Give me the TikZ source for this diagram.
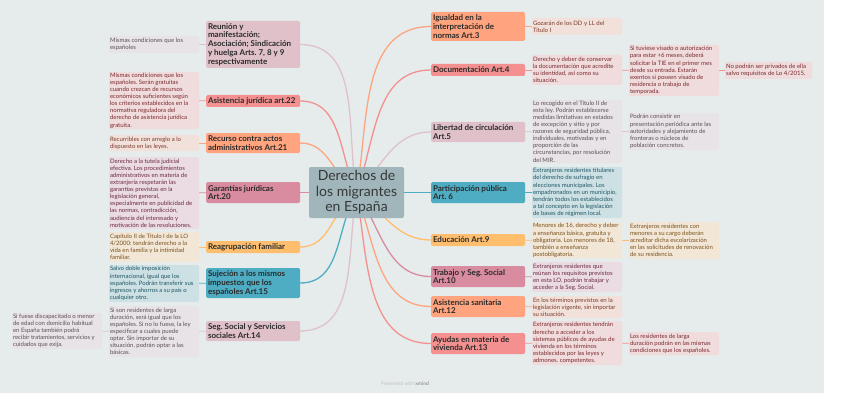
\documentclass[tikz,border=0pt]{standalone}
\usepackage{fontspec}
\setmainfont{Lato}
\usepackage{xcolor}
\usepackage{tikz}
\usetikzlibrary{backgrounds,positioning}
\frenchspacing

\definecolor{cBack}{HTML}{E6ECEC}
\definecolor{cRoot}{HTML}{A1B6BB}
\definecolor{cMauve}{HTML}{E0C1CA}
\definecolor{cRed}{HTML}{F49090}
\definecolor{cOrange}{HTML}{FFA47E}
\definecolor{cPink}{HTML}{D98BA0}
\definecolor{cYellow}{HTML}{FFBE6E}
\definecolor{cTeal}{HTML}{4EADC3}
\definecolor{sMauve}{HTML}{E8E3E7}
\definecolor{sRed}{HTML}{F0DCDC}
\definecolor{sOrange}{HTML}{F2E1DB}
\definecolor{sPink}{HTML}{EBDCE3}
\definecolor{sYellow}{HTML}{F2E6D6}
\definecolor{sTeal}{HTML}{CDE1E5}
\definecolor{tMauve}{HTML}{5A5055}
\definecolor{tRed}{HTML}{7A2A30}
\definecolor{tOrange}{HTML}{7B3A2A}
\definecolor{tPink}{HTML}{6A2A45}
\definecolor{tYellow}{HTML}{7A5320}
\definecolor{tTeal}{HTML}{1F5563}
\definecolor{tMain}{HTML}{2A2A2A}

\begin{document}
\begin{tikzpicture}[x=1pt,y=-1pt,
    root node/.style={rectangle,rounded corners=2pt,fill=cRoot,text=tMain!90!cRoot,font=\fontsize{14}{15.5}\selectfont,align=center,minimum width=95pt,minimum height=51pt,inner sep=0pt},
    main node/.style={rectangle,rounded corners=1.5pt,fill=#1,text=tMain,font=\bfseries\fontsize{8}{8.8}\selectfont,text width=90pt,align=flush left,inner xsep=2pt,inner ysep=1pt},
    sub node/.style 2 args={rectangle,rounded corners=1.5pt,fill=#1,text=#2,font=\fontsize{6}{7.1}\selectfont,text width=88pt,align=flush left,inner xsep=1pt,inner ysep=1pt},
    branch/.style={line width=1.3pt},
    twig/.style={line width=0.7pt}]
    \useasboundingbox (0,0) rectangle (848,417);

    \node[root node] (root) at (356.5,192.5) {Derechos de\\los migrantes\\en España};

    % left side
    \node[main node=cMauve,minimum height=47pt] (reunion) at (253,44.5) {Reunión y\\manifestación;\\Asociación; Sindicación\\y huelga Arts. 7, 8 y 9\\respectivamente};
    \node[main node=cRed,minimum height=12pt] (asistjur) at (253,101) {Asistencia jurídica art.22};
    \node[main node=cOrange,minimum height=20pt] (recurso) at (253,143) {Recurso contra actos\\administrativos Art.21};
    \node[main node=cPink,minimum height=21pt] (garantias) at (253,192.5) {Garantías jurídicas\\Art.20};
    \node[main node=cYellow,minimum height=12pt] (reagrup) at (253,247) {Reagrupación familiar};
    \node[main node=cTeal,minimum height=30pt] (sujecion) at (253,283) {Sujeción a los mismos\\impuestos que los\\españoles Art.15};
    \node[main node=cMauve,minimum height=20pt] (segsoc) at (253,331) {Seg. Social y Servicios\\sociales Art.14};

    \node[sub node={sMauve}{tMauve},minimum height=17pt] (sreunion) at (154,44.5) {Mismas condiciones que los\\españoles};
    \node[sub node={sRed}{tRed},minimum height=57pt] (sasistjur) at (154,100.5) {Mismas condiciones que los\\españoles. Serán gratuitas\\cuando crezcan de recursos\\económicos suficientes según\\los criterios establecidos en la\\normativa reguladora del\\derecho de asistencia jurídica\\gratuita.};
    \node[sub node={sOrange}{tOrange},minimum height=16pt] (srecurso) at (154,143) {Recurribles con arreglo a lo\\dispuesto en las leyes.};
    \node[sub node={sPink}{tPink},minimum height=72pt] (sgarantias) at (154,193) {Derecho a la tutela judicial\\efectiva. Los procedimientos\\administrativos en materia de\\extranjería respetarán las\\garantías previstas en la\\legislación general,\\especialmente en publicidad de\\las normas, contradicción,\\audiencia del interesado y\\motivación de las resoluciones.};
    \node[sub node={sYellow}{tYellow},minimum height=30pt] (sreagrup) at (154,247) {Capítulo II de Título I de la LO\\4/2000: tendrán derecho a la\\vida en familia y la intimidad\\familiar.};
    \node[sub node={sTeal}{tTeal},minimum height=37pt] (ssujecion) at (154,283.5) {Salvo doble imposición\\internacional, igual que los\\españoles. Podrán transferir sus\\ingresos y ahorros a su país o\\cualquier otro.};
    \node[sub node={sMauve}{tMauve},minimum height=51pt] (ssegsoc) at (154,331.5) {Si son residentes de larga\\duración, será igual que los\\españoles. Si no lo fuese, la ley\\especificar a cuales puede\\optar. Sin importar de su\\situación, podrán optar a las\\básicas.};
    \node[sub node={sMauve}{tMauve},minimum height=36pt] (sssegsoc) at (57,331) {Si fuese discapacitado o menor\\de edad con domicilio habitual\\en España también podrá\\recibir tratamientos, servicios y\\cuidados que exija.};

    % right side
    \node[main node=cOrange,minimum height=29pt] (igualdad) at (478,26.5) {Igualdad en la\\interpretación de\\normas Art.3};
    \node[main node=cRed,minimum height=12pt] (docum) at (478,70) {Documentación Art.4};
    \node[main node=cMauve,minimum height=20pt] (libertad) at (478,132) {Libertad de circulación\\Art.5};
    \node[main node=cTeal,minimum height=21pt] (particip) at (478,192.5) {Participación pública\\Art. 6};
    \node[main node=cYellow,minimum height=12pt] (educ) at (478,240) {Educación Art.9};
    \node[main node=cPink,minimum height=21pt] (trabajo) at (478,276.5) {Trabajo y Seg. Social\\Art.10};
    \node[main node=cOrange,minimum height=21pt] (asistsan) at (478,306.5) {Asistencia sanitaria\\Art.12};
    \node[main node=cRed,minimum height=21pt] (ayudas) at (478,343.5) {Ayudas en materia de\\vivienda Art.13};

    \node[sub node={sOrange}{tOrange},minimum height=17pt] (sigualdad) at (577,26.5) {Gozarán de los DD y LL del\\Título I};
    \node[sub node={sRed}{tRed},minimum height=30pt] (sdocum) at (577,70) {Derecho y deber de conservar\\la documentación que acredite\\su identidad, así como su\\situación.};
    \node[sub node={sMauve}{tMauve},minimum height=63pt] (slibertad) at (577,131.5) {Lo recogido en el Título II de\\esta ley. Podrán establecerse\\medidas limitativas en estados\\de excepción y sitio y por\\razones de seguridad pública,\\individuales, motivadas y en\\proporción de las\\circunstancias, por resolución\\del MIR.};
    \node[sub node={sTeal}{tTeal},minimum height=51pt] (sparticip) at (577,192.5) {Extranjeros residentes titulares\\del derecho de sufragio en\\elecciones municipales. Los\\empadronados en un municipio,\\tendrán todos los establecidos\\a tal concepto en la legislación\\de bases de régimen local.};
    \node[sub node={sYellow}{tYellow},minimum height=35pt] (seduc) at (577,240.5) {Menores de 16, derecho y deber\\a enseñanza básica, gratuita y\\obligatoria. Los menores de 18,\\también a enseñanza\\postobligatoria.};
    \node[sub node={sPink}{tPink},minimum height=30pt] (strabajo) at (577,277) {Extranjeros residentes que\\reúnan los requisitos previstos\\en esta LO, podrán trabajar y\\acceder a la Seg. Social.};
    \node[sub node={sOrange}{tOrange},minimum height=22pt] (sasistsan) at (577,307) {En los términos previstos en la\\legislación vigente, sin importar\\su situación.};
    \node[sub node={sRed}{tRed},minimum height=44pt] (sayudas) at (577,343) {Extranjeros residentes tendrán\\derecho a acceder a los\\sistemas públicos de ayudas de\\vivienda en los términos\\establecidos por las leyes y\\admones. competentes.};

    \node[sub node={sRed}{tRed},minimum height=51pt] (ssdocum) at (674,70.5) {Si tuviese visado o autorización\\para estar +6 meses, deberá\\solicitar la TIE en el primer mes\\desde su entrada. Estarán\\exentos si poseen visado de\\residencia o trabajo de\\temporada.};
    \node[sub node={sRed}{tRed},minimum height=17pt,text width=85pt] (sssdocum) at (768.5,70.5) {No podrán ser privados de ella\\salvo requisitos de Lo 4/2015.};
    \node[sub node={sMauve}{tMauve},minimum height=37pt] (sslibertad) at (674,131.5) {Podrán consistir en\\presentación periódica ante las\\autoridades y alejamiento de\\fronteras o núcleos de\\población concretos.};
    \node[sub node={sYellow}{tYellow},minimum height=37pt] (sseduc) at (674,240.5) {Extranjeros residentes con\\menores a su cargo deberán\\acreditar dicha escolarización\\en las solicitudes de renovación\\de su residencia.};
    \node[sub node={sRed}{tRed},minimum height=23pt] (ssayudas) at (674,343.5) {Los residentes de larga\\duración podrán en las mismas\\condiciones que los españoles.};

    \node[text=black!25,font=\fontsize{5}{6}\selectfont] (footer) at (405,384) {Presented with \textcolor{black!40}{\bfseries xmind}};

    \begin{pgfonlayer}{background}
    \fill[cBack] (0,0) rectangle (824,393);
    \path[branch] (root.center) edge[out=100,in=0,draw=cMauve] (reunion.east)
        (root.center) edge[out=115,in=0,draw=cRed] (asistjur.east)
        (root.center) edge[out=145,in=0,draw=cOrange] (recurso.east)
        (root.center) edge[draw=cPink] (garantias.east)
        (root.center) edge[out=215,in=0,draw=cYellow] (reagrup.east)
        (root.center) edge[out=240,in=0,draw=cTeal] (sujecion.east)
        (root.center) edge[out=260,in=0,draw=cMauve] (segsoc.east)
        (root.center) edge[out=80,in=180,draw=cOrange] (igualdad.west)
        (root.center) edge[out=70,in=180,draw=cRed] (docum.west)
        (root.center) edge[out=45,in=180,draw=cMauve] (libertad.west)
        (root.center) edge[draw=cTeal] (particip.west)
        (root.center) edge[out=-35,in=180,draw=cYellow] (educ.west)
        (root.center) edge[out=-55,in=180,draw=cPink] (trabajo.west)
        (root.center) edge[out=-70,in=180,draw=cOrange] (asistsan.west)
        (root.center) edge[out=-80,in=180,draw=cRed] (ayudas.west);
    \path[twig] (reunion) edge[draw=cMauve] (sreunion)
        (asistjur) edge[draw=cRed] (sasistjur)
        (recurso) edge[draw=cOrange] (srecurso)
        (garantias) edge[draw=cPink] (sgarantias)
        (reagrup) edge[draw=cYellow] (sreagrup)
        (sujecion) edge[draw=cTeal] (ssujecion)
        (segsoc) edge[draw=cMauve] (ssegsoc)
        (ssegsoc) edge[draw=cMauve] (sssegsoc)
        (igualdad) edge[draw=cOrange] (sigualdad)
        (docum) edge[draw=cRed] (sdocum)
        (libertad) edge[draw=cMauve] (slibertad)
        (particip) edge[draw=cTeal] (sparticip)
        (educ) edge[draw=cYellow] (seduc)
        (trabajo) edge[draw=cPink] (strabajo)
        (asistsan) edge[draw=cOrange] (sasistsan)
        (ayudas) edge[draw=cRed] (sayudas)
        (sdocum) edge[draw=cRed] (ssdocum)
        (ssdocum) edge[draw=cRed] (sssdocum)
        (slibertad) edge[draw=cMauve] (sslibertad)
        (seduc) edge[draw=cYellow] (sseduc)
        (sayudas) edge[draw=cRed] (ssayudas);
    \end{pgfonlayer}
\end{tikzpicture}
\end{document}
